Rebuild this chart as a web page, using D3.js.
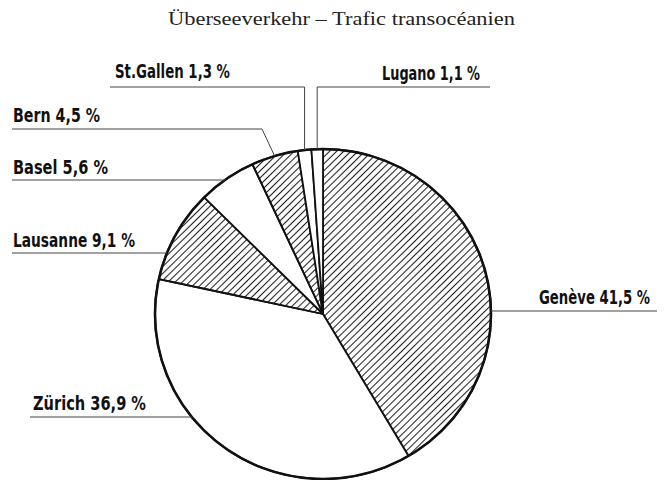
<!DOCTYPE html>
<html>
<head>
<meta charset="utf-8">
<script src="https://cdn.jsdelivr.net/npm/d3@7"></script>
<style>
  body { margin: 0; background: #fff; }
  .lbl { font-family: "DejaVu Sans Condensed", "DejaVu Sans", sans-serif; font-weight: bold; font-size: 19px; fill: #111; }
  .title { font-family: "Liberation Serif", "DejaVu Serif", serif; font-size: 18px; fill: #222; }
</style>
</head>
<body>
<div id="chart"></div>
<script>
"use strict"
// Überseeverkehr - share by airport
var cities = ["Genève", "Zürich", "Lausanne", "Basel", "Bern", "St.Gallen", "Lugano"];
var shares = [41.5, 36.9, 9.1, 5.6, 4.5, 1.3, 1.1];
var shareText = ["41,5", "36,9", "9,1", "5,6", "4,5", "1,3", "1,1"];
var hatched = [true, false, true, false, true, false, false];

var width = 670,
	height = 480;
var cx = 323, cy = 314, rx = 168, ry = 165;

var svg = d3.select("#chart").append("svg")
	.attr("width", width)
	.attr("height", height);

svg.append("text")
	.attr("class", "title")
	.attr("x", 168)
	.attr("y", 25)
	.attr("textLength", 347)
	.attr("lengthAdjust", "spacingAndGlyphs")
	.text("Überseeverkehr – Trafic transocéanien");

var defs = svg.append("defs");
var pat = defs.append("pattern")
	.attr("id", "hatch")
	.attr("patternUnits", "userSpaceOnUse")
	.attr("width", 5)
	.attr("height", 5)
	.attr("patternTransform", "rotate(45)");
pat.append("line")
	.attr("x1", 2.5).attr("y1", 0)
	.attr("x2", 2.5).attr("y2", 5)
	.style("stroke", "#222")
	.style("stroke-width", 1.1);

var pie = d3.pie().sort(null).value(function(d){ return d; });
var arcs = pie(shares);
var arc = d3.arc().innerRadius(0).outerRadius(rx);

var g = svg.append("g")
	.attr("transform", "translate(" + cx + "," + cy + ") scale(1," + (ry/rx) + ")");

g.selectAll("path.slice")
	.data(arcs)
	.enter().append("path")
	.attr("class", "slice")
	.attr("d", arc)
	.style("fill", function(d,i){ return hatched[i] ? "url(#hatch)" : "#fff"; })
	.style("stroke", "#111")
	.style("stroke-width", 1.8)
	.style("stroke-linejoin", "round");

g.append("ellipse")
	.attr("rx", rx).attr("ry", rx)
	.style("fill", "none")
	.style("stroke", "#111")
	.style("stroke-width", 2.6);

// label layout (text anchor x and width, underline y, underline outer end, leader kind)
var layout = [
	{tx:650, ty:304, tw:111, ly:311, end:657, kind:"right", anchor:"end"},
	{tx:33,  ty:410, tw:113, ly:417, end:30,  kind:"left"},
	{tx:13,  ty:247, tw:122, ly:253, end:12,  kind:"left"},
	{tx:13,  ty:174, tw:95,  ly:180, end:12,  kind:"left"},
	{tx:13,  ty:122, tw:87,  ly:129, end:12,  kind:"elbow", knee:262},
	{tx:115, ty:78,  tw:115, ly:87,  end:110, kind:"vert"},
	{tx:382, ty:80,  tw:98,  ly:87,  end:490, kind:"vert"}
];

function onRim(a) {
	return [cx + rx*Math.sin(a), cy - ry*Math.cos(a)];
}
function rimAtY(y, sign) {
	var t = (y - cy) / ry;
	return cx + sign * rx * Math.sqrt(1 - t*t);
}

var leaders = layout.map(function(L, i) {
	var mid = (arcs[i].startAngle + arcs[i].endAngle) / 2;
	var pts;
	if (L.kind === "right") pts = [[L.end, L.ly], [rimAtY(L.ly, 1), L.ly]];
	else if (L.kind === "left") pts = [[L.end, L.ly], [rimAtY(L.ly, -1), L.ly]];
	else if (L.kind === "elbow") pts = [[L.end, L.ly], [L.knee, L.ly], onRim(mid)];
	else {
		var p = onRim(mid);
		pts = [[L.end, L.ly], [p[0], L.ly], p];
	}
	return pts;
});

svg.selectAll("path.leader")
	.data(leaders)
	.enter().append("path")
	.attr("class", "leader")
	.attr("d", d3.line())
	.style("fill", "none")
	.style("stroke", "#444")
	.style("stroke-width", 1);

svg.selectAll("text.lbl")
	.data(cities)
	.enter().append("text")
	.attr("class", "lbl")
	.attr("x", function(d,i){ return layout[i].tx; })
	.attr("y", function(d,i){ return layout[i].ty; })
	.attr("text-anchor", function(d,i){ return layout[i].anchor || "start"; })
	.attr("textLength", function(d,i){ return layout[i].tw; })
	.attr("lengthAdjust", "spacingAndGlyphs")
	.text(function(d,i){ return d + " " + shareText[i] + " %"; });
</script>
</body>
</html>
